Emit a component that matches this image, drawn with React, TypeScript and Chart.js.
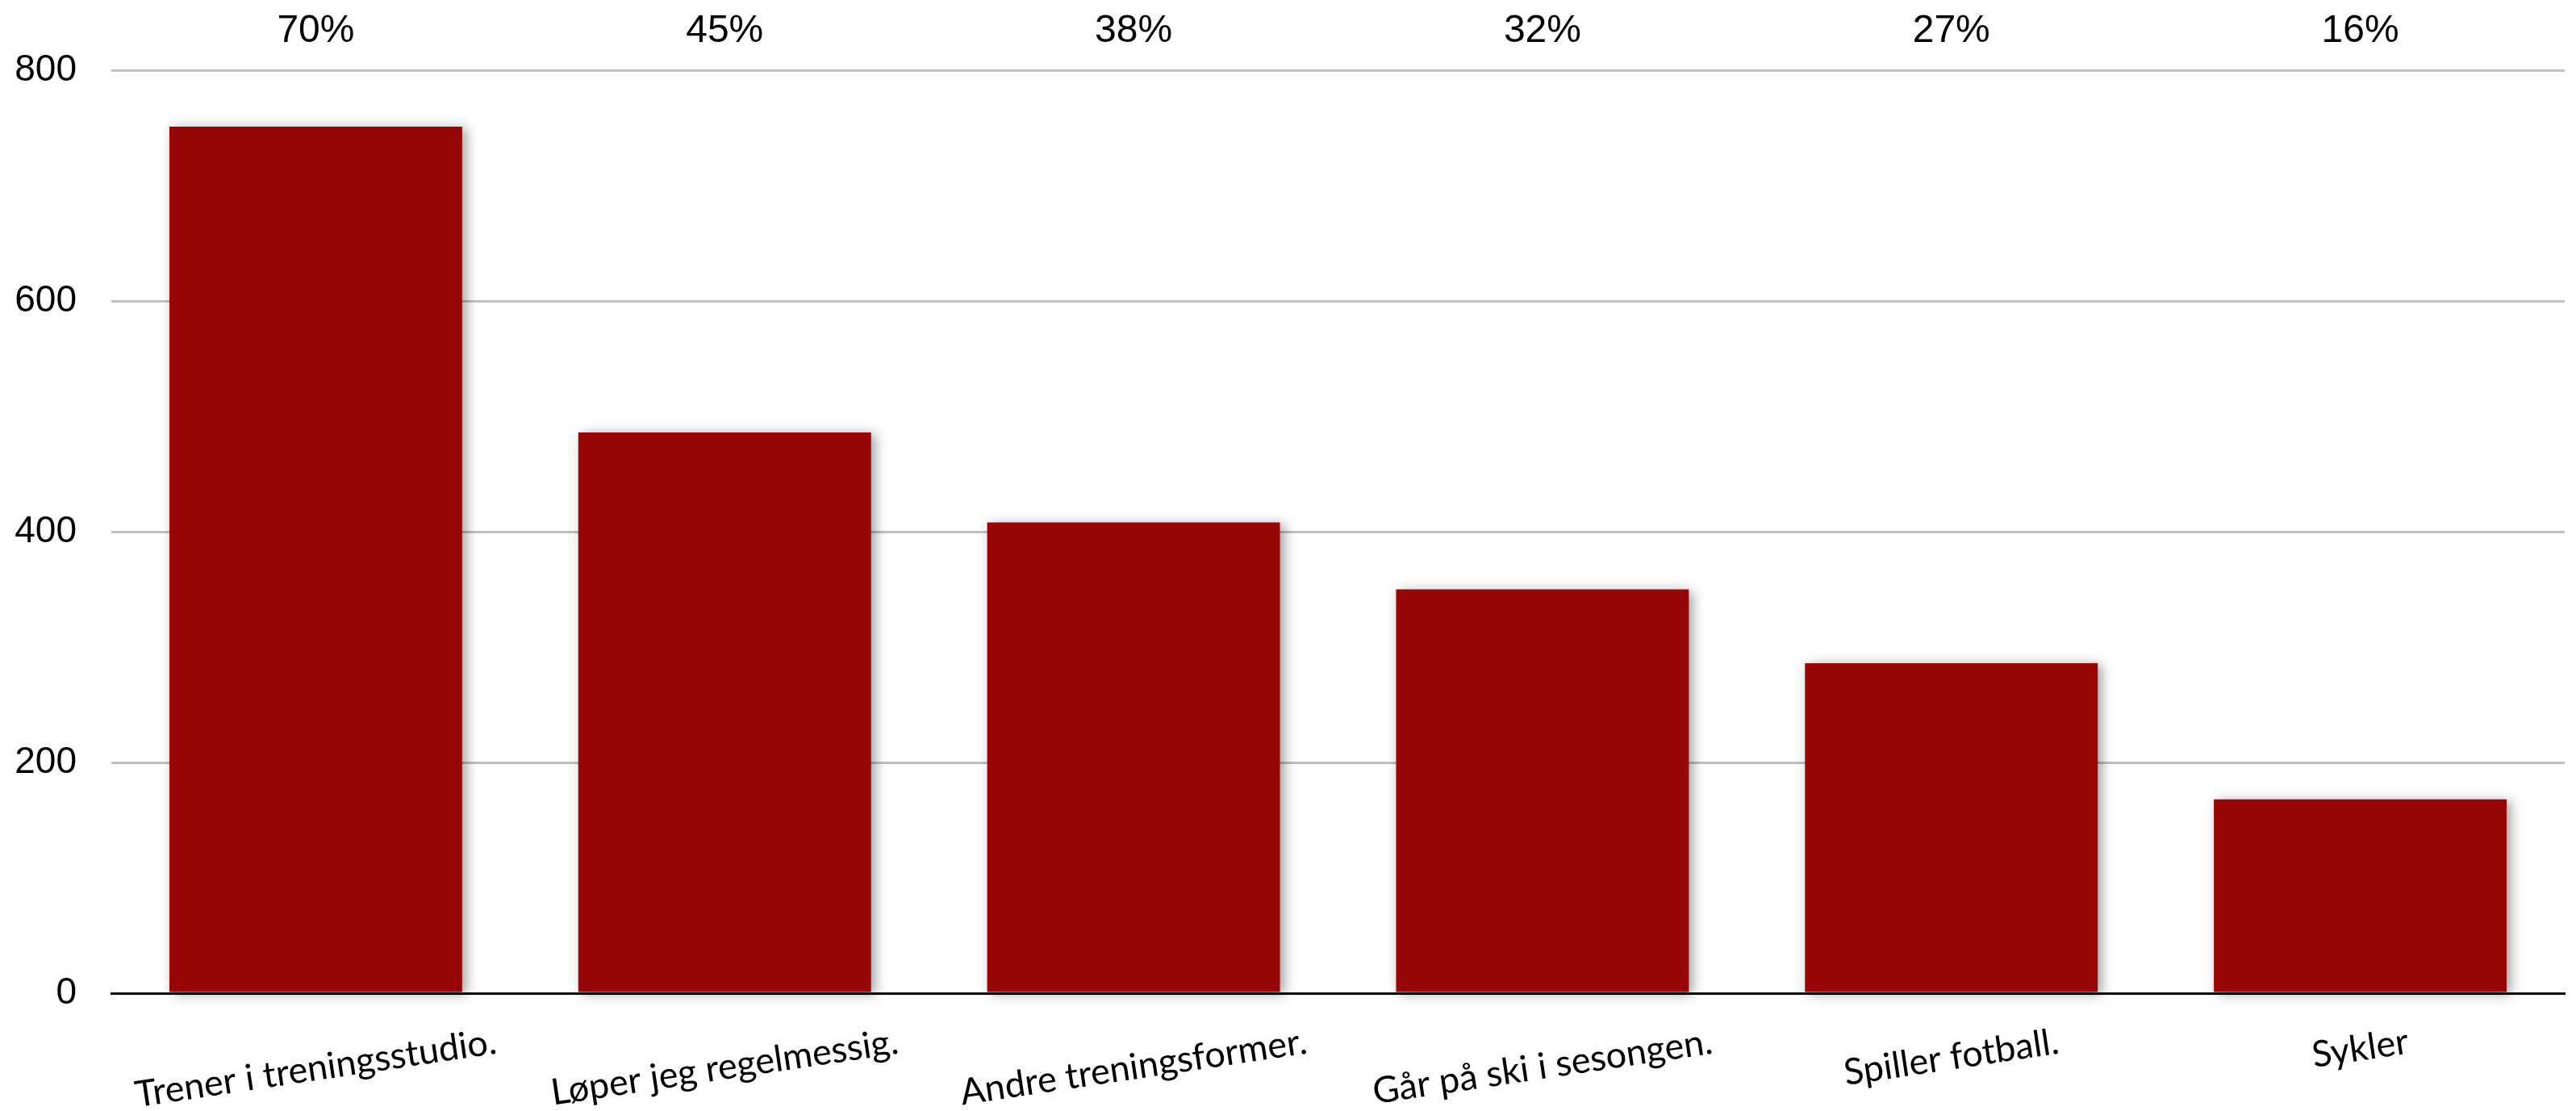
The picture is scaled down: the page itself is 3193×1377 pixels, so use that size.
import React, { useEffect, useRef } from "react";
import { Chart, registerables } from "chart.js";

Chart.register(...registerables);

const categories = [
  "Trener i treningsstudio.",
  "Løper jeg regelmessig.",
  "Andre treningsformer.",
  "Går på ski i sesongen.",
  "Spiller fotball.",
  "Sykler",
];
const counts = [751, 486, 408, 350, 286, 168];
const percentLabels = ["70%", "45%", "38%", "32%", "27%", "16%"];
const yTicks = [0, 200, 400, 600, 800];

const BAR_COLOR = "#970606";
const LABEL_ANGLE = (8.5 * Math.PI) / 180;

const shadowPlugin = {
  id: "barShadow",
  beforeDatasetsDraw(chart: any) {
    const c = chart.ctx;
    c.save();
    c.shadowColor = "rgba(0,0,0,0.38)";
    c.shadowBlur = 14;
    c.shadowOffsetX = 5;
    c.shadowOffsetY = 2;
  },
  afterDatasetsDraw(chart: any) {
    chart.ctx.restore();
  },
};

const labelPlugin = {
  id: "customLabels",
  afterDraw(chart: any) {
    const c = chart.ctx;
    const xs = chart.scales.x;
    c.save();
    // percentage labels on top
    c.fillStyle = "#000";
    c.font = "48px 'Liberation Sans', Arial, sans-serif";
    c.textAlign = "center";
    c.textBaseline = "alphabetic";
    percentLabels.forEach((t, i) => {
      c.fillText(t, xs.getPixelForValue(i), 52);
    });
    // rotated category labels, centred under each bar
    c.font = "45px Lato, 'Open Sans', sans-serif";
    categories.forEach((t, i) => {
      const cx = xs.getPixelForValue(i);
      const w = c.measureText(t).width;
      c.save();
      c.translate(cx + (w / 2) * Math.cos(LABEL_ANGLE), 1291);
      c.rotate(-LABEL_ANGLE);
      c.textAlign = "right";
      c.textBaseline = "middle";
      c.fillText(t, 0, 0);
      c.restore();
    });
    c.restore();
  },
};

export default function App() {
  const ref = useRef<HTMLCanvasElement | null>(null);

  useEffect(() => {
    document.body.style.margin = "0";
    document.body.style.overflow = "hidden";
    const canvas = ref.current;
    if (!canvas) return;
    const chart = new Chart(canvas, {
      type: "bar",
      data: {
        labels: categories,
        datasets: [
          {
            data: counts,
            backgroundColor: BAR_COLOR,
            borderWidth: 0,
            categoryPercentage: 1,
            barPercentage: 0.716,
            clip: false as any,
          },
        ],
      },
      options: {
        responsive: false,
        devicePixelRatio: 1,
        animation: false,
        layout: { padding: { top: 87, right: 14, bottom: 0, left: 0 } },
        plugins: {
          legend: { display: false },
          tooltip: { enabled: false },
        },
        scales: {
          x: {
            type: "category",
            offset: true,
            grid: { display: false },
            ticks: { display: false },
            border: { display: true, color: "#000", width: 3, z: 1 },
            afterFit: (s: any) => {
              s.height = 146;
            },
          },
          y: {
            min: 0,
            max: 800,
            afterBuildTicks: (s: any) => {
              s.ticks = yTicks.map((v) => ({ value: v }));
            },
            grid: {
              drawTicks: false,
              lineWidth: 3,
              color: (ctx: any) =>
                ctx.tick && ctx.tick.value === 0 ? "rgba(0,0,0,0)" : "#c0c0c0",
            },
            border: { display: false },
            ticks: {
              padding: 43,
              color: "#000",
              font: {
                family: "'Liberation Sans Narrow', 'Liberation Sans', Arial, sans-serif",
                size: 46,
              },
              callback: (v: any) => String(v),
            },
            afterFit: (s: any) => {
              s.width = 138;
            },
          },
        },
      },
      plugins: [shadowPlugin, labelPlugin],
    });
    return () => chart.destroy();
  }, []);

  return (
    <canvas
      ref={ref}
      width={3193}
      height={1377}
      style={{ display: "block", width: "3193px", height: "1377px" }}
    />
  );
}
